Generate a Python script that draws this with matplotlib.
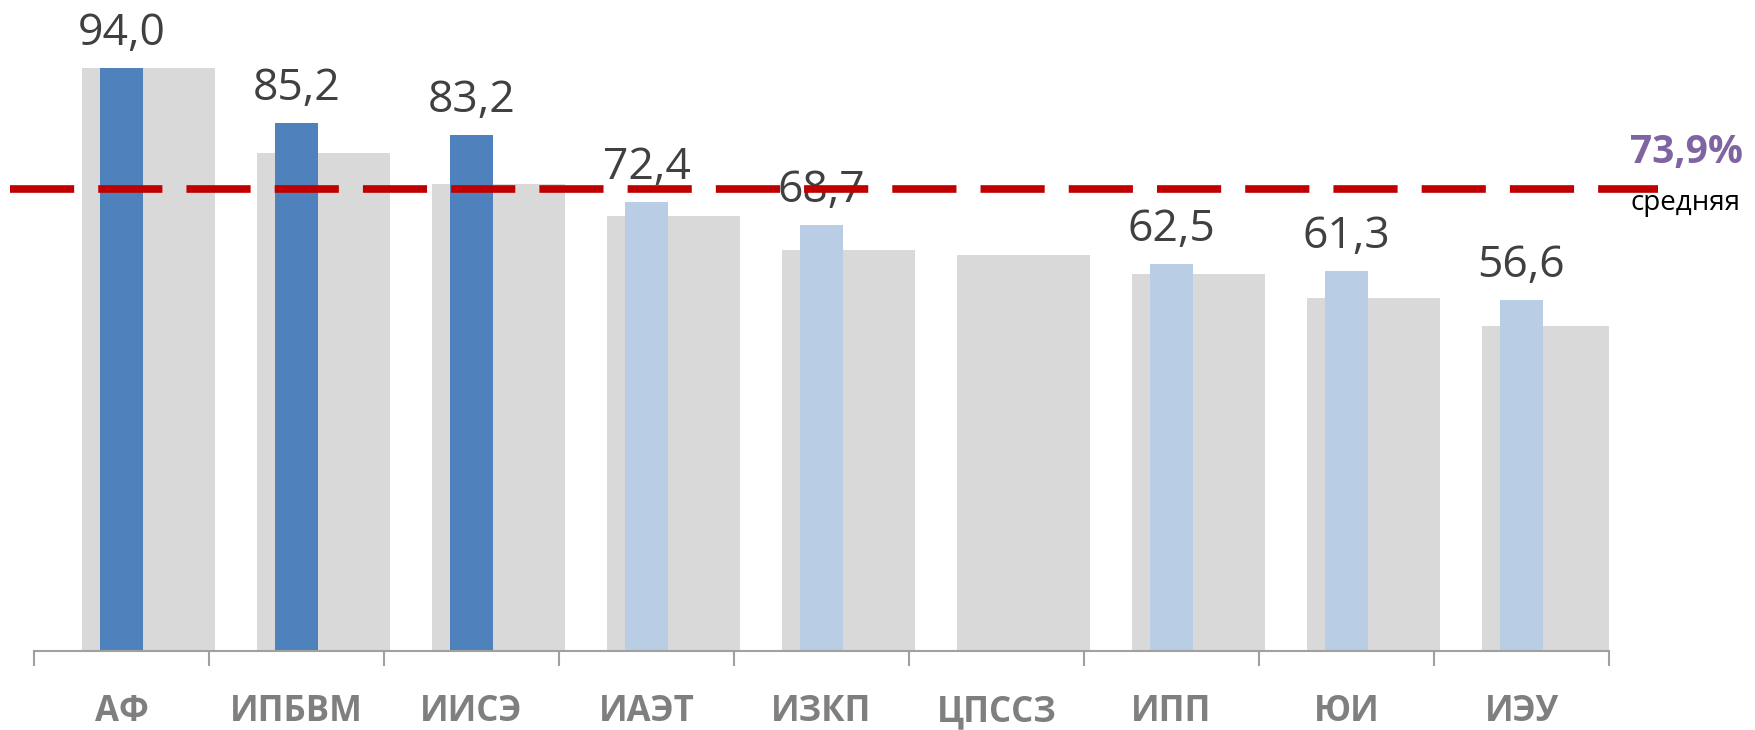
import matplotlib
matplotlib.use("Agg")
import matplotlib.pyplot as plt
import numpy as np

plt.rcParams['font.family'] = ['Open Sans', 'DejaVu Sans']

categories = ['АФ', 'ИПБВМ', 'ИИСЭ', 'ИАЭТ', 'ИЗКП', 'ЦПССЗ', 'ИПП', 'ЮИ', 'ИЭУ']
current = [94.0, 85.2, 83.2, 72.4, 68.7, np.nan, 62.5, 61.3, 56.6]
previous = [94.0, 80.3, 75.3, 70.2, 64.6, 63.8, 60.8, 57.0, 52.5]
highlight = [True, True, True, False, False, False, False, False, False]
avg_level = 74.5
avg_label = '73,9%'

dark_blue = '#4F81BD'
light_blue = '#B9CDE5'
grey = '#D9D9D9'

fig = plt.figure(figsize=(17.55, 7.30), dpi=100)
ax = fig.add_axes([34 / 1755, 79 / 730, 1575 / 1755, 620 / 730])

x = np.arange(len(categories))
ax.bar(x + 0.155, previous, width=0.76, color=grey, zorder=1)
colors = [dark_blue if h else light_blue for h in highlight]
ax.bar(x, current, width=0.25, color=colors, zorder=2)

for xi, v in zip(x, current):
    if np.isnan(v):
        continue
    ax.annotate(f'{v:.1f}'.replace('.', ','), (xi, v), xytext=(0, 16.5),
                textcoords='offset points', ha='center', va='baseline',
                fontsize=32, color='#404040')

# average line
ax.plot([-0.64, 8.78], [avg_level, avg_level], color='#C00000', lw=5.5,
        dashes=(8.4, 3.15), clip_on=False, zorder=3)
fig.text(1630 / 1755, 1 - 153 / 730, avg_label, fontsize=28, fontweight='bold',
         color='#8064A2', ha='left', va='center')
fig.text(1631 / 1755, 1 - 203 / 730, 'средняя', fontsize=20, color='black',
         ha='left', va='center')

ax.set_xlim(-0.5, len(categories) - 0.5)
ax.set_ylim(0, 100)
ax.set_xticks(x)
ax.set_xticklabels(categories, fontsize=25, fontweight='bold', color='#7F7F7F')
ax.set_xticks(np.arange(len(categories) + 1) - 0.5, minor=True)
ax.tick_params(axis='x', which='major', length=0, pad=31)
ax.tick_params(axis='x', which='minor', length=11, width=1.5, color='#A0A0A0')
ax.set_yticks([])
for s in ['top', 'right', 'left']:
    ax.spines[s].set_visible(False)
ax.spines['bottom'].set_color('#A0A0A0')
ax.spines['bottom'].set_linewidth(1.5)

fig.savefig('out.png', dpi=100)
